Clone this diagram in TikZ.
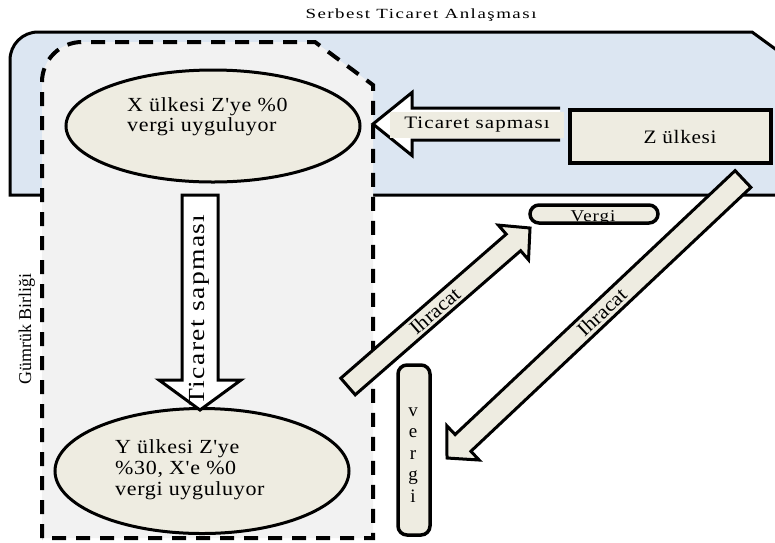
\documentclass[tikz,border=0pt]{standalone}
\usepackage{fontspec}
\usepackage{graphicx}
\setmainfont{Liberation Serif}[Ligatures=TeXOff]
\usetikzlibrary{calc,shapes.geometric}
\definecolor{ftablue}{HTML}{DCE6F2}
\definecolor{cugray}{HTML}{F2F2F2}
\definecolor{beige}{HTML}{EEECE1}
% horizontally widened text
\newcommand\hsc[2]{\scalebox{#1}[1]{#2}}
% block arrow corner points: prefix, tail, tip, shaft half width, head half width, head length
\newcommand\arrowpts[6]{%
  \coordinate (#1hb) at ($(#3)!#6!(#2)$);
  \coordinate (#1a) at ($(#2)!#4!90:(#3)$);
  \coordinate (#1b) at ($(#1hb)!#4!90:(#3)$);
  \coordinate (#1c) at ($(#1hb)!#5!90:(#3)$);
  \coordinate (#1d) at ($(#1hb)!#5!-90:(#3)$);
  \coordinate (#1e) at ($(#1hb)!#4!-90:(#3)$);
  \coordinate (#1f) at ($(#2)!#4!-90:(#3)$);
}
\begin{document}
\begin{tikzpicture}[x=1pt,y=-1pt,
  fta/.style={draw=black,line width=3pt,fill=ftablue},
  cu/.style={draw=black,line width=4pt,fill=cugray,dash pattern=on 14pt off 10pt},
  oval/.style={ellipse,draw=black,line width=3pt,fill=beige,inner sep=0pt},
  zbox/.style={draw=black,line width=4pt,fill=beige,inner sep=0pt},
  pill/.style={draw=black,line width=3.5pt,fill=beige,rounded corners=9pt,inner sep=0pt},
  warrow/.style={draw=black,line width=3pt,fill=white},
  barrow/.style={draw=black,line width=3pt,fill=beige},
  ttl/.style={inner sep=0pt,font=\fontsize{14}{16}\selectfont\addfontfeature{LetterSpace=8}},
  gbl/.style={inner sep=0pt,font=\fontsize{18}{20}\selectfont},
  ovtxt/.style={inner sep=0pt,font=\fontsize{20}{19}\selectfont\addfontfeature{LetterSpace=3}},
  ovtxtb/.style={inner sep=0pt,font=\fontsize{20}{21}\selectfont\addfontfeature{LetterSpace=3}},
  ztxt/.style={inner sep=0pt,font=\fontsize{19}{21}\selectfont\addfontfeature{LetterSpace=3}},
  vtxt/.style={inner sep=0pt,font=\fontsize{16.5}{19}\selectfont\addfontfeature{LetterSpace=5}},
  vstack/.style={inner sep=0pt,align=center,font=\fontsize{19}{21.5}\selectfont},
  hlab/.style={fill=beige,inner sep=0pt,minimum width=174pt,minimum height=26pt,font=\fontsize{17.5}{20}\selectfont\addfontfeature{LetterSpace=5}},
  vlab/.style={inner sep=0pt,font=\fontsize{23}{25}\selectfont\addfontfeature{LetterSpace=5}},
  ihr/.style={inner sep=0pt,font=\fontsize{20}{22}\selectfont}
]
\useasboundingbox (0,0) rectangle (775,542);
% Serbest Ticaret Anlasmasi area
\begin{scope}
  \clip (0,0) rectangle (775,542);
  \draw[fta] (10,195) -- (10,60) arc[start angle=180,end angle=270,radius=28] -- (752,32) -- (800,67) -- (800,195) -- cycle;
\end{scope}
% Gumruk Birligi area
\draw[cu] (42,538) -- (42,82) arc[start angle=180,end angle=270,radius=40] -- (315,42) -- (373,85) -- (373,538) -- cycle;

\node[ttl,anchor=base] (title) at (421,18) {\hsc{1.35}{Serbest Ticaret Anlaşması}};
\node[gbl,rotate=90,anchor=base] (gb) at (31,329) {Gümrük Birliği};

% countries
\node[oval,minimum width=294pt,minimum height=112pt] (xe) at (213,126) {};
\node[ovtxt,anchor=north west] (xt) at (127,97.7) {\hsc{1.1}{\begin{tabular}{@{}l@{}}X ülkesi Z'ye \%0\\vergi uyguluyor\end{tabular}}};
\node[oval,minimum width=294pt,minimum height=125pt] (ye) at (202,471) {};
\node[ovtxtb,anchor=north west] (yt) at (115,438.3) {\hsc{1.1}{\begin{tabular}{@{}l@{}}Y ülkesi Z'ye\\\%30, X'e \%0\\vergi uyguluyor\end{tabular}}};
\node[zbox,minimum width=201pt,minimum height=53pt] (z) at (670.5,136.5) {};
\node[ztxt,anchor=base] (zt) at (680,143) {\hsc{1.12}{Z ülkesi}};

% taxes
\node[pill,minimum width=128pt,minimum height=18pt] (v1) at (594,214) {};
\node[vtxt,anchor=base] (v1t) at (593,221) {\hsc{1.15}{Vergi}};
\node[pill,minimum width=32pt,minimum height=170pt] (v2) at (414,450) {};
\node[vstack] (v2t) at (413,455) {v\\e\\r\\g\\i};

% vertical trade diversion arrow
\coordinate (a1t) at (200,195);
\coordinate (a1h) at (200,410);
\arrowpts{A}{a1t}{a1h}{18pt}{41pt}{30pt}
\draw[warrow] (Aa) -- (Ab) -- (Ac) -- (a1h) -- (Ad) -- (Ae) -- (Af) -- cycle;
\node[vlab,rotate=90,anchor=base] (vl) at (204.5,310) {\hsc{1.2}{Ticaret sapması}};

% horizontal trade diversion arrow
\coordinate (a0t) at (560,124);
\coordinate (a0h) at (373,124);
\arrowpts{B}{a0t}{a0h}{16pt}{31.5pt}{39pt}
\fill[white] (Ba) -- (Bb) -- (Bc) -- (a0h) -- (Bd) -- (Be) -- (Bf) -- cycle;
\draw[line width=3pt] (Ba) -- (Bb) -- (Bc) -- (a0h) -- (Bd) -- (Be) -- (Bf);
\node[hlab] (hl) at (477,125) {\hsc{1.2}{Ticaret sapması}};

% export arrows
\coordinate (a2t) at (348,386.5);
\coordinate (a2h) at (530,228);
\arrowpts{C}{a2t}{a2h}{11pt}{23pt}{22pt}
\draw[barrow] (Ca) -- (Cb) -- (Cc) -- (a2h) -- (Cd) -- (Ce) -- (Cf) -- cycle;
\path (a2t) -- (a2h) node[pos=0.477,sloped,ihr] (l2) {\hsc{1.08}{Ihracat}};

\coordinate (a3t) at (743,179);
\coordinate (a3h) at (447,458);
\arrowpts{D}{a3t}{a3h}{11.5pt}{23.5pt}{22pt}
\draw[barrow] (Da) -- (Db) -- (Dc) -- (a3h) -- (Dd) -- (De) -- (Df) -- cycle;
\path (a3t) -- (a3h) node[pos=0.477,sloped,ihr] (l3) {\hsc{1.08}{Ihracat}};
\end{tikzpicture}
\end{document}
